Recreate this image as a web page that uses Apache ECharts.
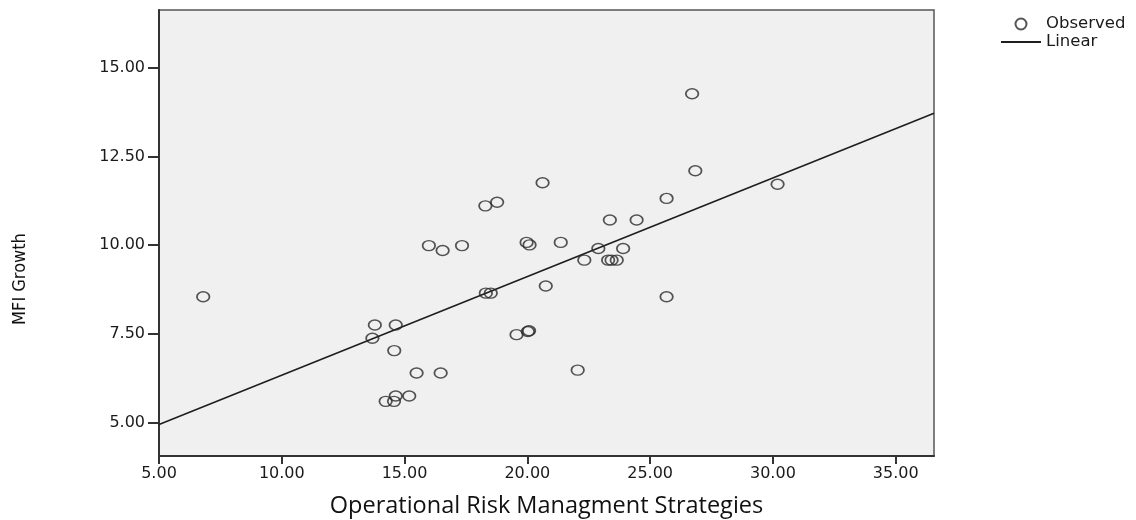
<!DOCTYPE html>
<html>
<head>
<meta charset="utf-8">
<script src="https://cdn.jsdelivr.net/npm/echarts@6/dist/echarts.min.js"></script>
<style>
  html, body { margin: 0; padding: 0; background: #ffffff; }
  #chart { width: 1136px; height: 520px; }
</style>
</head>
<body>
<div id="chart"></div>
<script>
// Observed points (x: Operational Risk Managment Strategies, y: MFI Growth)
const obsX = [6.80, 13.79, 14.64, 13.69, 14.58, 15.49, 16.47, 14.64, 15.19, 14.23,
              14.57, 19.56, 20.07, 20.02, 20.62, 18.29, 18.77, 15.99, 16.55, 17.34,
              19.97, 20.09, 21.36, 22.32, 22.89, 20.75, 18.31, 18.51, 26.84, 25.67,
              23.36, 24.45, 23.90, 23.29, 23.43, 23.64, 25.67, 22.05, 26.71, 30.19];
const obsY = [8.55, 7.75, 7.75, 7.38, 7.03, 6.40, 6.40, 5.75, 5.75, 5.60,
              5.60, 7.48, 7.59, 7.57, 11.76, 11.11, 11.21, 9.99, 9.85, 9.99,
              10.08, 10.01, 10.08, 9.58, 9.91, 8.85, 8.65, 8.65, 12.10, 11.32,
              10.71, 10.71, 9.91, 9.58, 9.58, 9.58, 8.55, 6.48, 14.27, 11.72];
// Linear fit line end points
const fitX = [5.00, 36.56];
const fitY = [4.95, 13.72];
// Tick values
const xTicks = [5, 10, 15, 20, 25, 30, 35];
const yTicks = [5, 7.5, 10, 12.5, 15];

const observed = obsX.map((x, i) => [x, obsY[i]]);
const linear = fitX.map((x, i) => [x, fitY[i]]);

const chart = echarts.init(document.getElementById('chart'), null, { renderer: 'canvas' });
const tickFont = { fontFamily: 'DejaVu Sans', fontSize: 16, color: '#1a1a1a' };

chart.setOption({
  animation: false,
  backgroundColor: '#ffffff',
  grid: {
    left: 159, right: 202, top: 10, bottom: 64,
    outerBoundsMode: 'none', containLabel: false,
    show: true, backgroundColor: '#f0f0f0', borderColor: '#555', borderWidth: 1.5
  },
  legend: {
    orient: 'vertical', left: 996, top: 10, itemGap: 0,
    itemWidth: 40, itemHeight: 11,
    textStyle: { fontFamily: 'DejaVu Sans', fontSize: 16.5, color: '#1a1a1a', lineHeight: 18 },
    data: [
      { name: 'Observed' },
      { name: 'Linear', icon: 'path://M0,0 L34,0 L34,1.6 L0,1.6 Z' }
    ]
  },
  xAxis: {
    type: 'value', min: 5, max: 36.56,
    name: 'Operational Risk Managment Strategies',
    nameLocation: 'middle', nameGap: 38,
    nameTextStyle: { fontFamily: 'Open Sans', fontSize: 23.5, color: '#111' },
    axisLine: { show: true, onZero: false, lineStyle: { color: '#333', width: 2 } },
    axisTick: { show: true, length: 8, customValues: xTicks, lineStyle: { color: '#333', width: 2 } },
    axisLabel: Object.assign({ margin: 10, customValues: xTicks,
      formatter: v => v.toFixed(2) }, tickFont),
    splitLine: { show: false }
  },
  yAxis: {
    type: 'value', min: 4.06, max: 16.63,
    axisLine: { show: true, onZero: false, lineStyle: { color: '#333', width: 2 } },
    axisTick: { show: true, length: 11, customValues: yTicks, lineStyle: { color: '#333', width: 2 } },
    axisLabel: Object.assign({ margin: 14, customValues: yTicks,
      formatter: v => v.toFixed(2) }, tickFont),
    splitLine: { show: false }
  },
  graphic: [{
    type: 'text', x: 20, y: 279, rotation: Math.PI / 2,
    style: {
      text: 'MFI Growth', align: 'center', verticalAlign: 'middle',
      font: '18px "DejaVu Sans Condensed", "Liberation Sans", sans-serif',
      fill: '#111'
    }
  }],
  series: [
    {
      name: 'Observed', type: 'scatter', data: observed,
      symbol: 'circle', symbolSize: [12.5, 10],
      itemStyle: { color: 'rgba(0,0,0,0)', borderColor: '#2b2b2b', borderWidth: 1.6 },
      z: 3
    },
    {
      name: 'Linear', type: 'line', data: linear,
      symbol: 'none', showSymbol: false,
      lineStyle: { color: '#1e1e1e', width: 1.6 },
      itemStyle: { color: '#1e1e1e' },
      z: 2
    }
  ]
});
</script>
</body>
</html>
